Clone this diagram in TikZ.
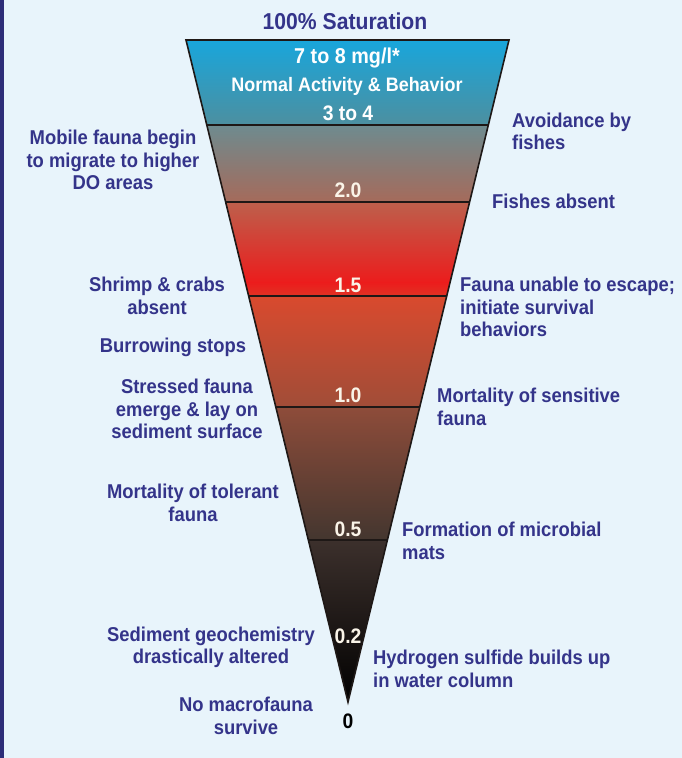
\documentclass[tikz,border=0pt]{standalone}
\usepackage{fontspec}
\setmainfont{Liberation Sans}[FakeStretch=0.92]
\usetikzlibrary{calc}
\definecolor{navy}{RGB}{52,52,138}
\definecolor{bgc}{RGB}{232,244,251}
\definecolor{borderc}{RGB}{45,45,120}
\definecolor{numw}{RGB}{250,244,232}
\definecolor{sepc}{RGB}{30,24,22}
\definecolor{bAt}{RGB}{24,166,220}
\definecolor{bAb}{RGB}{77,143,159}
\definecolor{bBt}{RGB}{110,139,143}
\definecolor{bBb}{RGB}{166,106,90}
\definecolor{bCt}{RGB}{189,96,76}
\definecolor{bCb}{RGB}{236,28,28}
\definecolor{bCc}{RGB}{224,52,36}
\definecolor{bDt}{RGB}{217,74,46}
\definecolor{bDb}{RGB}{160,77,56}
\definecolor{bEt}{RGB}{142,76,58}
\definecolor{bEb}{RGB}{67,54,47}
\definecolor{bFt}{RGB}{60,48,44}
\definecolor{bFb}{RGB}{0,0,0}
\begin{document}
\begin{tikzpicture}[x=1pt,y=-1pt,
  lbl/.style={text=navy,font=\bfseries\fontsize{20}{22.6}\selectfont,inner sep=0pt},
  lc/.style={lbl,align=center},
  ll/.style={lbl,align=left,anchor=west},
  num/.style={text=numw,font=\bfseries\fontsize{21}{22}\selectfont,inner sep=0pt},
  sepline/.style={draw=sepc,line width=2pt},
  outline/.style={draw=sepc,line width=1.6pt}]
\useasboundingbox (0,0) rectangle (682,758);
\fill[bgc] (0,0) rectangle (682,758);
\fill[borderc] (0,0) rectangle (4,758);
\coordinate (TL) at (186,40);
\coordinate (TR) at (509,40);
\coordinate (A) at (348,702);
\begin{scope}
  \clip (TL) -- (TR) -- (A) -- cycle;
  \shade[top color=bAt,bottom color=bAb] (180,39) rectangle (520,126);
  \shade[top color=bBt,bottom color=bBb] (180,125) rectangle (520,203);
  \shade[top color=bCt,bottom color=bCb] (180,202) rectangle (520,283);
  \shade[top color=bCb,bottom color=bCc] (180,282) rectangle (520,297);
  \shade[top color=bDt,bottom color=bDb] (180,296) rectangle (520,408);
  \shade[top color=bEt,bottom color=bEb] (180,407) rectangle (520,541);
  \shade[top color=bFt,bottom color=bFb] (180,540) rectangle (520,705);
\end{scope}
\foreach \yy in {125,202,296,407,540}
  \draw[sepline] ($(TL)!{(\yy-40)/662}!(A)$) -- ($(TR)!{(\yy-40)/662}!(A)$);
\draw[outline] (TL) -- (TR) -- (A) -- cycle;

% inside texts
\node[lbl,font=\bfseries\fontsize{23}{24}\selectfont] (title) at (345,21) {100\% Saturation};
\node[num,text=white,font=\bfseries\fontsize{21.5}{22}\selectfont] (top) at (347,58) {7 to 8 mg/l*};
\node[num,text=white,font=\bfseries\fontsize{19.5}{20}\selectfont] (normal) at (347,86) {Normal Activity \& Behavior};
\node[num,text=white,font=\bfseries\fontsize{21}{22}\selectfont] (n34) at (348,113) {3 to 4};
\node[num] (n20) at (348,190) {2.0};
\node[num] (n15) at (348,285) {1.5};
\node[num] (n10) at (348,395) {1.0};
\node[num] (n05) at (348,529) {0.5};
\node[num] (n02) at (348,636) {0.2};
\node[num,text=black] (n0) at (348,721) {0};

% left labels
\node[lc] (mobile) at (113,160) {Mobile fauna begin\\to migrate to higher\\DO areas};
\node[lc] (shrimp) at (157,296) {Shrimp \& crabs\\absent};
\node[lc] (burrow) at (173,347) {Burrowing stops};
\node[lc] (stressed) at (187,409) {Stressed fauna\\emerge \& lay on\\sediment surface};
\node[lc] (tolerant) at (193,503) {Mortality of tolerant\\fauna};
\node[lc] (sedgeo) at (211,647.5) {Sediment geochemistry\\drastically altered};
\node[lc] (nomacro) at (246,716) {No macrofauna\\survive};

% right labels
\node[ll] (avoid) at (512,131.5) {Avoidance by\\fishes};
\node[ll] (fishabs) at (492,201) {Fishes absent};
\node[ll] (unable) at (460,307) {Fauna unable to escape;\\initiate survival\\behaviors};
\node[ll] (sensitive) at (437,407) {Mortality of sensitive\\fauna};
\node[ll] (microbial) at (402,541) {Formation of microbial\\mats};
\node[ll] (hydro) at (373,669) {Hydrogen sulfide builds up\\in water column};
\end{tikzpicture}
\end{document}
